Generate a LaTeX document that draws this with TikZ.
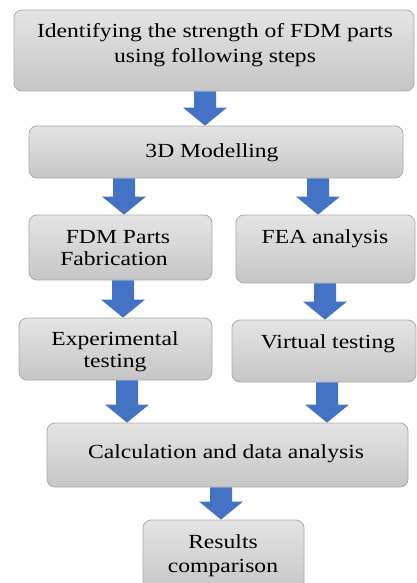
\documentclass[tikz,border=0pt]{standalone}
\usepackage{fontspec}
\setmainfont{Liberation Serif}[FakeStretch=1.18]
\usetikzlibrary{calc}
\definecolor{boxtop}{RGB}{228,228,228}
\definecolor{boxbot}{RGB}{198,198,198}
\definecolor{boxline}{RGB}{170,170,170}
\definecolor{arrowblue}{RGB}{68,114,196}
\tikzset{
  box/.style={draw=boxline, line width=0.8pt, rounded corners=8pt, top color=boxtop, bottom color=boxbot, inner sep=0pt},
  lbl/.style={anchor=base, inner sep=0pt, font=\fontsize{20}{25}\selectfont, text=black},
}
\newcommand\barrow[3]{%
  \fill[arrowblue] let \p1=(#2.south), \p2=(#3.north) in
    (#1-11,\y1) -- (#1+11,\y1) -- (#1+11,\y2+18pt) -- (#1+22,\y2+18pt) --
    (#1,\y2) -- (#1-22,\y2+18pt) -- (#1-11,\y2+18pt) -- cycle;}
\begin{document}
\begin{tikzpicture}[x=1pt,y=-1pt]
\useasboundingbox (0,0) rectangle (417,583);
\clip (0,0) rectangle (417,583);
\node[box, minimum width=400pt, minimum height=81pt] (b1) at (214,50.5) {};
\node[box, minimum width=374pt, minimum height=52pt] (b2) at (216,152) {};
\node[box, minimum width=183pt, minimum height=65pt] (b3) at (120.5,247.5) {};
\node[box, minimum width=179pt, minimum height=68pt] (b4) at (325.5,249) {};
\node[box, minimum width=193pt, minimum height=62pt] (b5) at (115.5,349) {};
\node[box, minimum width=184pt, minimum height=62pt] (b6) at (324,351) {};
\node[box, minimum width=361pt, minimum height=64pt] (b7) at (227.5,455) {};
\node[box, minimum width=161pt, minimum height=70pt] (b8) at (223.5,555) {};

\node[lbl] (t1a) at (215,38) {Identifying the strength of FDM parts};
\node[lbl] (t1b) at (215,63) {using following steps};
\node[lbl] (t2) at (212,157) {3D Modelling};
\node[lbl] (t3a) at (118,243) {FDM Parts};
\node[lbl] (t3b) at (114,265) {Fabrication};
\node[lbl] (t4) at (325,243) {FEA analysis};
\node[lbl] (t5a) at (115,345) {Experimental};
\node[lbl] (t5b) at (115,367) {testing};
\node[lbl] (t6) at (328,348) {Virtual testing};
\node[lbl] (t7) at (226,458) {Calculation and data analysis};
\node[lbl] (t8a) at (223,548) {Results};
\node[lbl] (t8b) at (223,572) {comparison};

\barrow{205}{b1}{b2}
\barrow{124}{b2}{b3}
\barrow{318}{b2}{b4}
\barrow{123}{b3}{b5}
\barrow{325}{b4}{b6}
\barrow{127}{b5}{b7}
\barrow{327}{b6}{b7}
\barrow{221}{b7}{b8}
\end{tikzpicture}
\end{document}
